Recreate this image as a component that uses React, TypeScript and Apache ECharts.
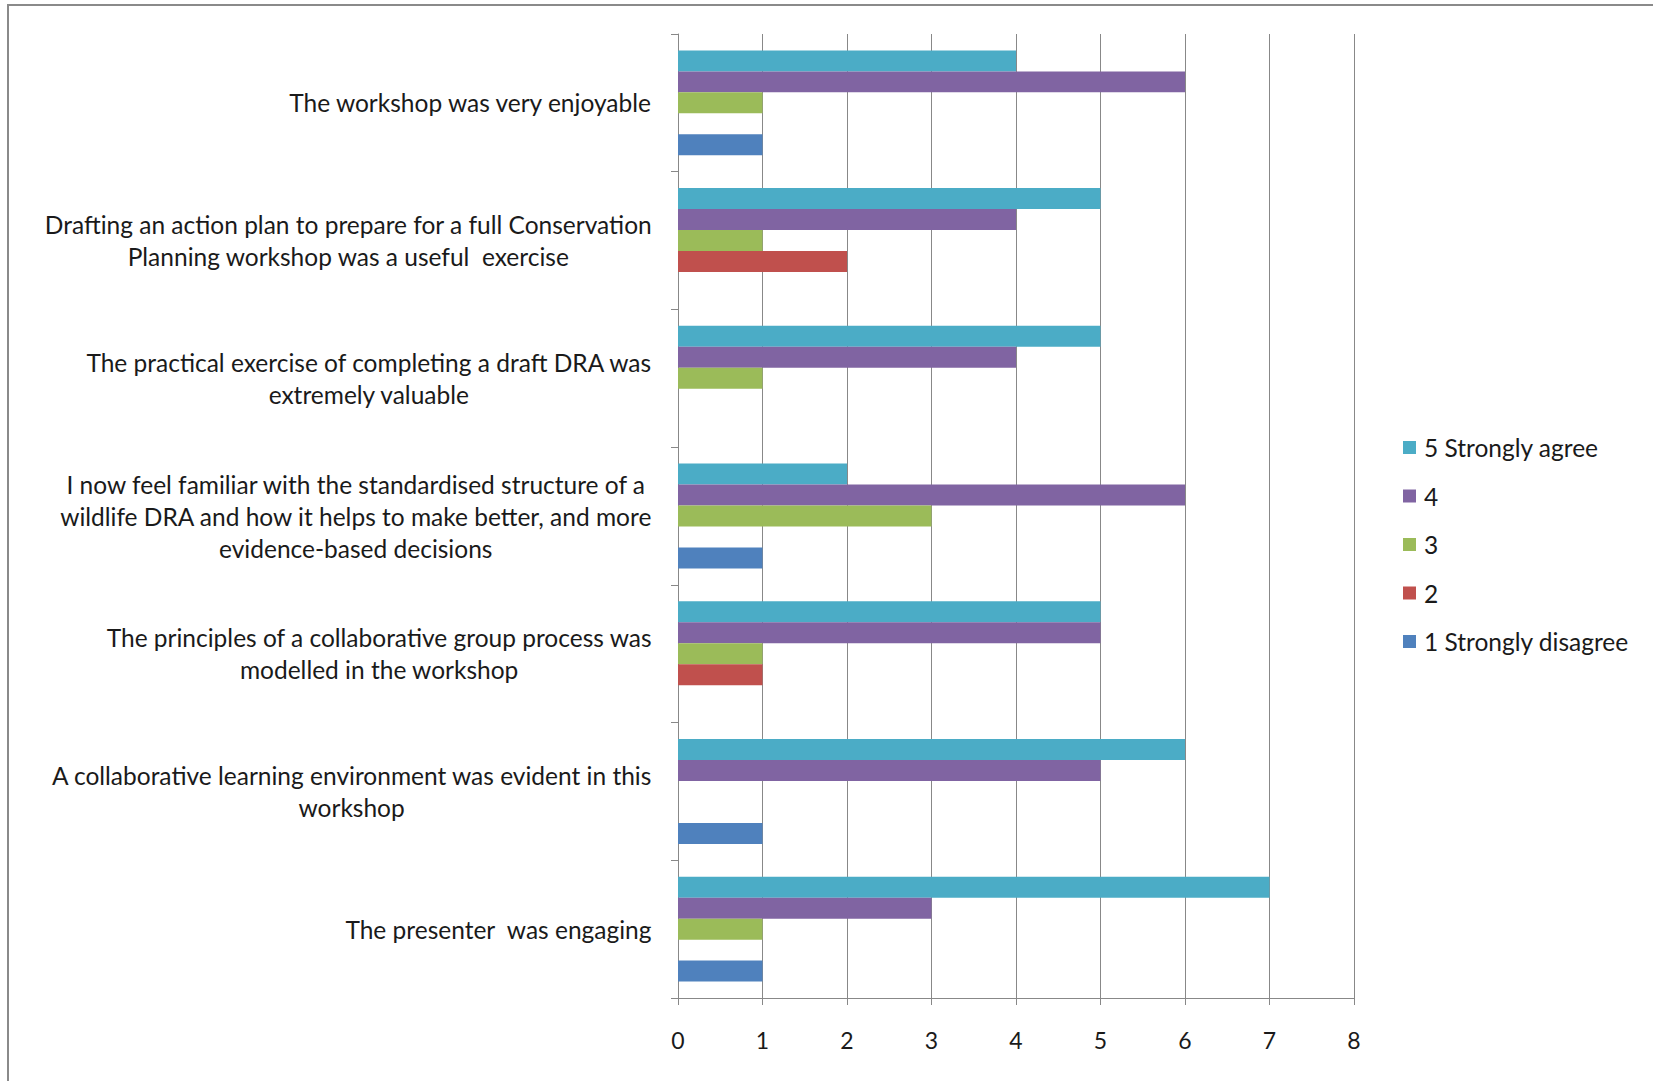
import React, { useEffect, useRef } from "react";
import * as echarts from "echarts";

// Statements, listed bottom to top along the category axis
const statements = [
  "The presenter  was engaging",
  "A collaborative learning environment was evident in this\nworkshop",
  "The principles of a collaborative group process was\nmodelled in the workshop",
  "I now feel familiar with the standardised structure of a\nwildlife DRA and how it helps to make better, and more\nevidence-based decisions",
  "The practical exercise of completing a draft DRA was\nextremely valuable",
  "Drafting an action plan to prepare for a full Conservation\nPlanning workshop was a useful  exercise",
  "The workshop was very enjoyable",
];

// Number of responses per rating, same order as statements
const strongAgree = [7, 6, 5, 2, 5, 5, 4];
const ratingFour = [3, 5, 5, 6, 4, 4, 6];
const ratingThree = [1, 0, 1, 3, 1, 1, 1];
const ratingTwo = [0, 0, 1, 0, 0, 2, 0];
const strongDisagree = [1, 1, 0, 1, 0, 0, 1];

// Series in drawing order within each band (top to bottom)
const seriesNames = ["5 Strongly agree", "4", "3", "2", "1 Strongly disagree"];
const seriesValues = [strongAgree, ratingFour, ratingThree, ratingTwo, strongDisagree];
const seriesColors = ["#4BACC6", "#8064A2", "#9BBB59", "#C0504D", "#4F81BD"];

const axisTicks = [0, 1, 2, 3, 4, 5, 6, 7, 8];

const FONT = "Lato, 'Open Sans', sans-serif";
const GRID_GRAY = "#888888";
const TEXT = "#1a1a1a";
const LABEL_SIZE = 24.5;

export default function App() {
  const ref = useRef<HTMLDivElement>(null);

  useEffect(() => {
    if (!ref.current) return;
    const chart = echarts.init(ref.current, undefined, { renderer: "svg" });
    chart.setOption({
      animation: false,
      backgroundColor: "#ffffff",
      textStyle: { fontFamily: FONT },
      graphic: [
        {
          type: "rect",
          shape: { x: 8, y: 5, width: 2000, height: 2000 },
          style: { fill: "none", stroke: "#8a8a8a", lineWidth: 2 },
          silent: true,
        },
      ],
      grid: { left: 678, top: 34, right: 299, bottom: 83, containLabel: false },
      legend: {
        orient: "vertical",
        left: 1398,
        top: 430,
        icon: "rect",
        itemWidth: 13,
        itemHeight: 13,
        itemGap: 23.5,
        data: seriesNames,
        textStyle: { fontFamily: FONT, fontSize: LABEL_SIZE, color: TEXT, padding: [0, 0, 0, 3] },
      },
      xAxis: {
        type: "value",
        min: axisTicks[0],
        max: axisTicks[axisTicks.length - 1],
        interval: 1,
        axisLine: { show: true, lineStyle: { color: GRID_GRAY, width: 1 } },
        axisTick: { show: true, length: 7, lineStyle: { color: GRID_GRAY } },
        splitLine: { show: true, lineStyle: { color: GRID_GRAY, width: 1 } },
        axisLabel: {
          margin: 30,
          fontFamily: FONT,
          fontSize: 23,
          color: TEXT,
        },
      },
      yAxis: {
        type: "category",
        data: statements,
        axisLine: { show: true, lineStyle: { color: GRID_GRAY, width: 1 } },
        axisTick: { show: true, length: 7, lineStyle: { color: GRID_GRAY } },
        axisLabel: {
          margin: 26,
          fontFamily: FONT,
          fontSize: LABEL_SIZE,
          color: TEXT,
          lineHeight: 32,
          formatter: (v: string) =>
            v
              .split("\n")
              .map((line) => `{c|${line}}`)
              .join("\n"),
          rich: {
            c: { align: "center", fontFamily: FONT, fontSize: LABEL_SIZE, color: TEXT, lineHeight: 32 },
          },
        },
      },
      series: seriesNames.map((name, i) => ({
        name,
        type: "bar",
        data: seriesValues[i],
        itemStyle: { color: seriesColors[i] },
        barGap: "0%",
        barCategoryGap: "23.8%",
      })),
    });
    return () => chart.dispose();
  }, []);

  return (
    <div
      ref={ref}
      style={{ position: "fixed", left: 0, top: 0, width: 1653, height: 1081 }}
    />
  );
}
